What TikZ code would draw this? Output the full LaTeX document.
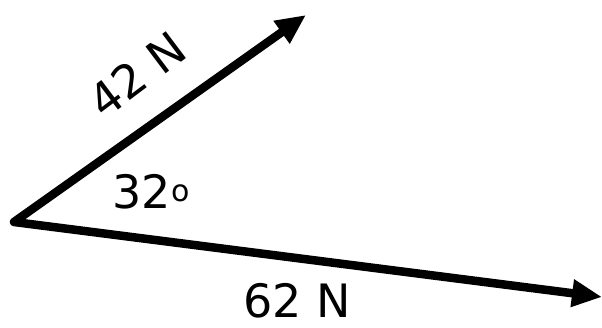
\documentclass[tikz,border=0pt]{standalone}
\usepackage{fontspec}
\setmainfont{DejaVu Sans}
\usetikzlibrary{arrows.meta}

\begin{document}
\begin{tikzpicture}[x=1pt, y=1pt,
    force/.style={line width=8.5pt, line join=round,
      {Triangle[length=30pt, width=26pt]}-{Triangle[length=30pt, width=26pt]}},
    lbl/.style={font=\fontsize{46}{50}\selectfont, inner sep=0pt}]
  \useasboundingbox (0, 0) rectangle (602, 327);
  \coordinate (O) at (14, 105);
  \coordinate (F1) at (306, 312);
  \coordinate (F2) at (602, 30);

  \draw[force] (F1) -- (O) -- (F2);

  \node[lbl, rotate=37] (f1label) at (137, 253) {42 N};
  \node[lbl] (anglelabel) at (151, 135)
    {32\raisebox{7pt}{\fontsize{30}{30}\selectfont o}};
  \node[lbl] (f2label) at (297, 26) {62 N};
\end{tikzpicture}
\end{document}
